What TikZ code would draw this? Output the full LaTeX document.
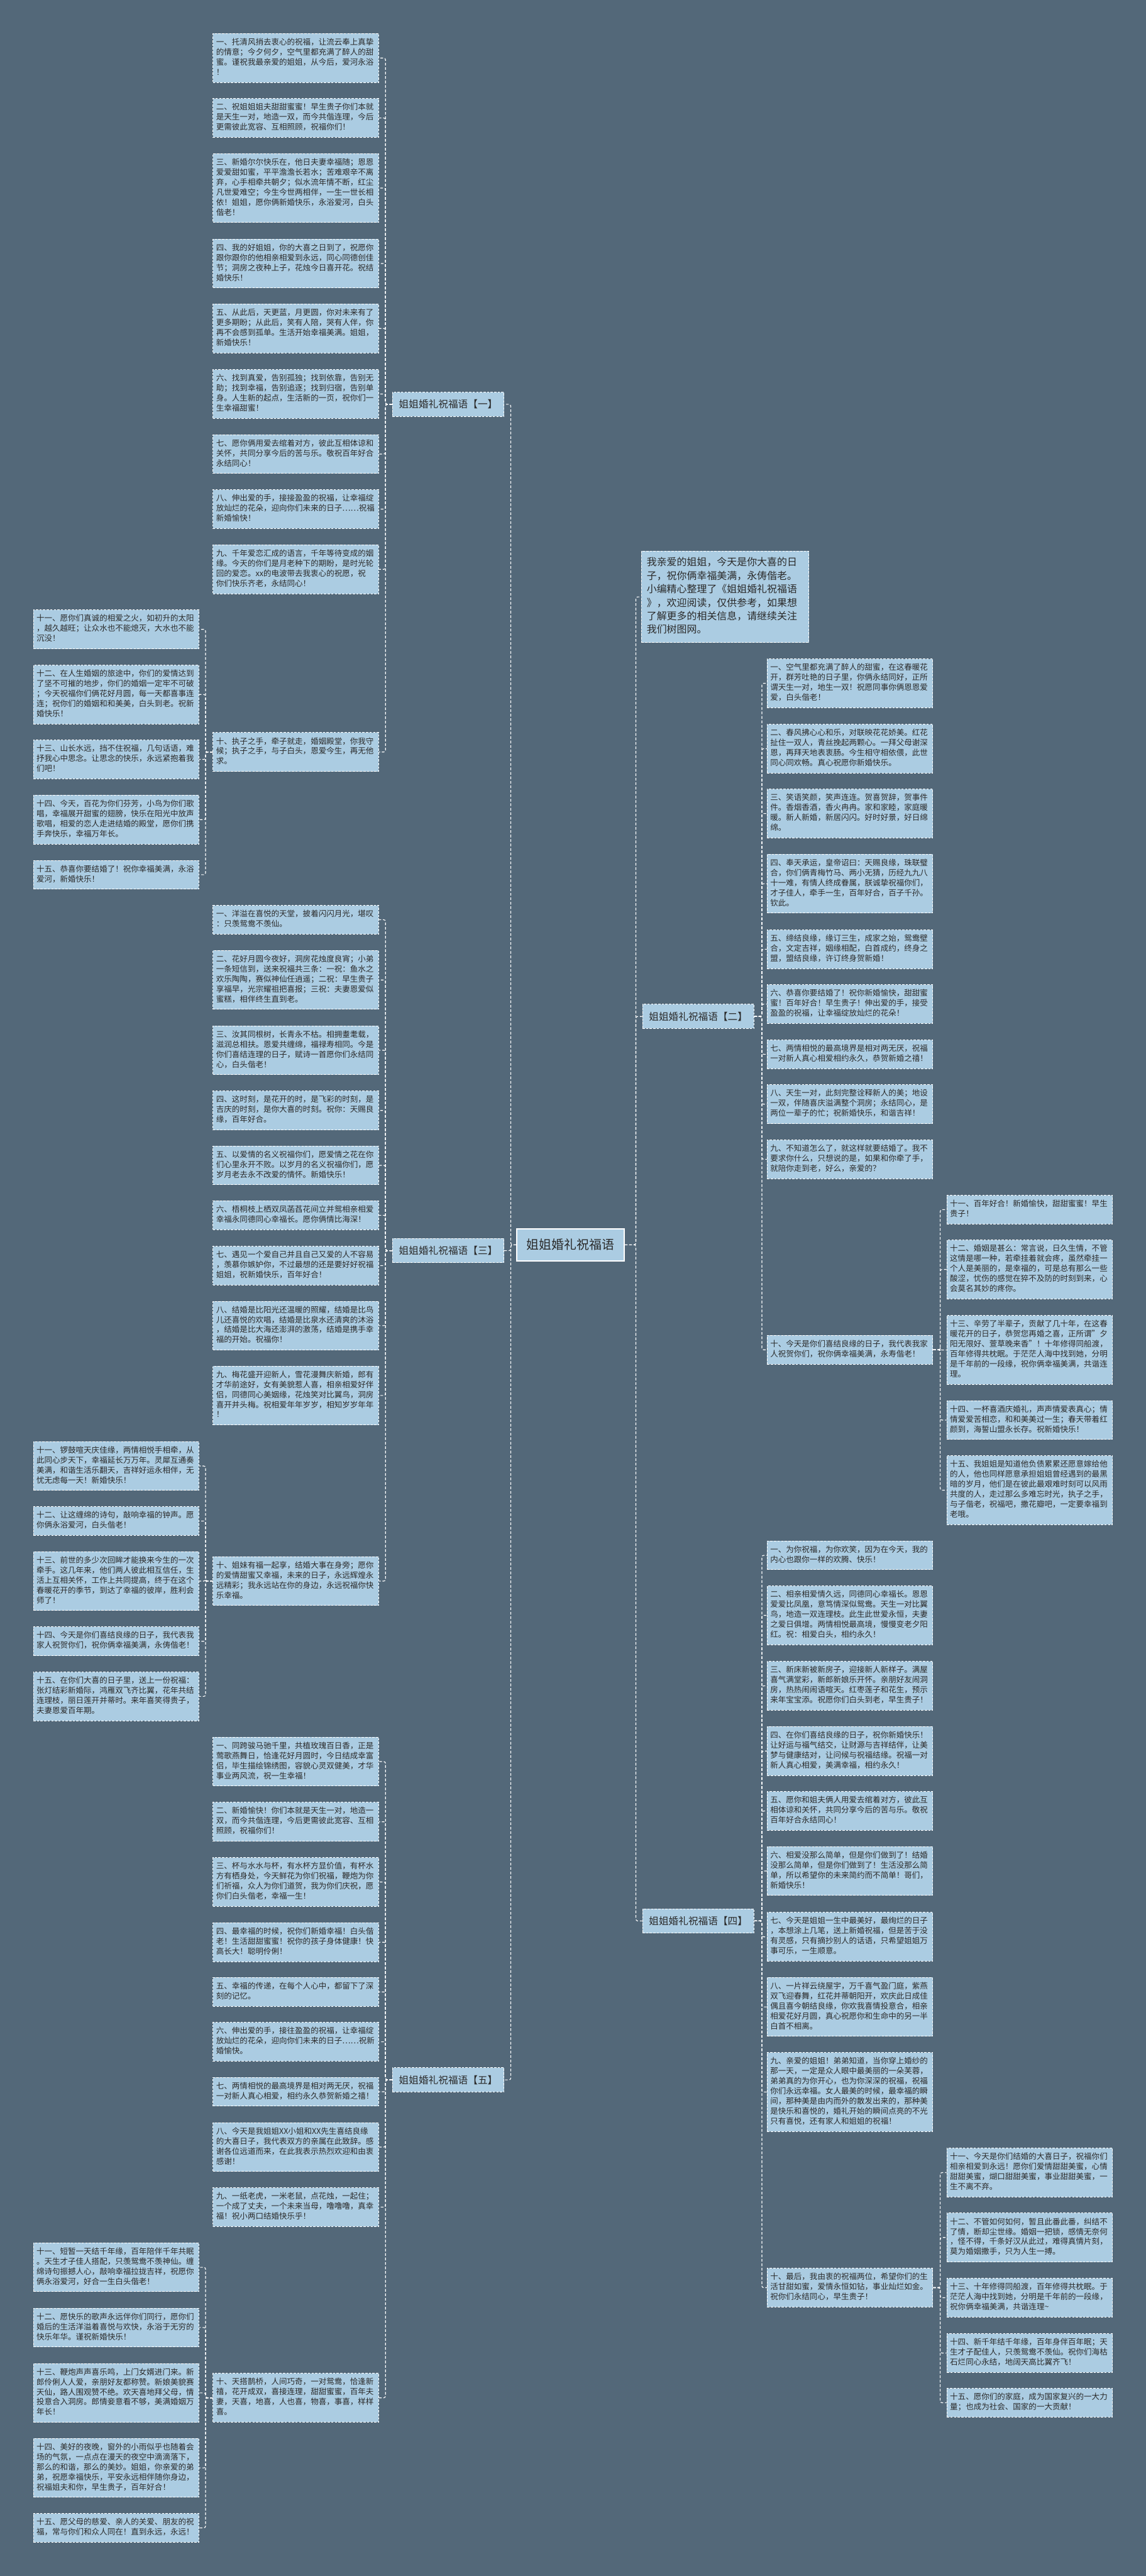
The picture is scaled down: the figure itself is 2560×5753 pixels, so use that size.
\documentclass[tikz,border=0pt]{standalone}
\usepackage{fontspec}
\setmainfont{Noto Sans CJK SC}
\setlength{\parindent}{0pt}
\definecolor{bgc}{RGB}{83,104,121}
\definecolor{leafc}{RGB}{171,204,226}
\definecolor{txtc}{RGB}{42,42,42}
\newcommand{\leaffont}{\fontsize{17.6}{22.4}\selectfont}
\newcommand{\introfont}{\fontsize{22.4}{30}\selectfont}
\tikzset{
  leaf/.style={draw=white, dash pattern=on 5pt off 3pt, line width=1.4pt, fill=leafc, text=txtc,
    font=\leaffont, text width=356pt, align=left, inner xsep=7pt, inner ysep=9.7pt,
    execute at begin node=\strut, execute at end node=\strut},
  intro/.style={leaf, font=\introfont, text width=350pt, inner xsep=12pt, inner ysep=12pt},
  branch/.style={draw=white, dash pattern=on 5pt off 3pt, line width=1.4pt, fill=leafc, text=txtc,
    font=\fontsize{22}{26}\selectfont, minimum width=249pt, minimum height=54pt, inner sep=4pt},
  root/.style={draw=white, line width=2.5pt, fill=leafc, text=txtc,
    font=\fontsize{28}{32}\selectfont, minimum width=240pt, minimum height=72pt, inner sep=6pt},
  conn/.style={draw=white, line width=1.6pt, dash pattern=on 6pt off 4pt, rounded corners=4pt}
}
\begin{document}
\begin{tikzpicture}[x=1pt,y=-1pt]
\useasboundingbox (0,0) rectangle (2560,5753);
\fill[bgc] (0,0) rectangle (2560,5753);

% root
\node[root] (root) at (1274.5,2780) {姐姐婚礼祝福语};

% intro
\node[intro] (intro) at (1620,1333) {我亲爱的姐姐，今天是你大喜的日\\子，祝你俩幸福美满，永俦偕老。\\小编精心整理了《姐姐婚礼祝福语\\》，欢迎阅读，仅供参考，如果想\\了解更多的相关信息，请继续关注\\我们树图网。};

% branches
\node[branch] (b1) at (1001.5,903) {姐姐婚礼祝福语【一】};
\node[branch] (b3) at (1001.5,2793) {姐姐婚礼祝福语【三】};
\node[branch] (b5) at (1001.5,4645) {姐姐婚礼祝福语【五】};
\node[branch] (b2) at (1560,2270) {姐姐婚礼祝福语【二】};
\node[branch] (b4) at (1560,4290) {姐姐婚礼祝福语【四】};

% ===== branch 1 =====
\node[leaf] (a1) at (661,129.5) {一、托清风捎去衷心的祝福，让流云奉上真挚\\的情意；今夕何夕，空气里都充满了醉人的甜\\蜜。谨祝我最亲爱的姐姐，从今后，爱河永浴\\！};
\node[leaf] (a2) at (661,263.5) {二、祝姐姐姐夫甜甜蜜蜜！早生贵子你们本就\\是天生一对，地造一双，而今共偕连理，今后\\更需彼此宽容、互相照顾，祝福你们！};
\node[leaf] (a3) at (661,420) {三、新婚尔尔快乐在，他日夫妻幸福随；恩恩\\爱爱甜如蜜，平平澹澹长若水；苦难艰辛不离\\弃，心手相牵共朝夕；似水流年情不断，红尘\\凡世爱难空；今生今世两相伴，一生一世长相\\依！姐姐，愿你俩新婚快乐，永浴爱河，白头\\偕老！};
\node[leaf] (a4) at (661,588.5) {四、我的好姐姐，你的大喜之日到了，祝愿你\\跟你跟你的他相亲相爱到永远，同心同德创佳\\节；洞房之夜种上子，花烛今日喜开花。祝结\\婚快乐！};
\node[leaf] (a5) at (661,733.5) {五、从此后，天更蓝，月更圆，你对未来有了\\更多期盼；从此后，笑有人陪，哭有人伴，你\\再不会感到孤单。生活开始幸福美满。姐姐，\\新婚快乐！};
\node[leaf] (a6) at (661,880) {六、找到真爱，告别孤独；找到依靠，告别无\\助；找到幸福，告别追逐；找到归宿，告别单\\身。人生新的起点，生活新的一页，祝你们一\\生幸福甜蜜！};
\node[leaf] (a7) at (661,1014) {七、愿你俩用爱去绾着对方，彼此互相体谅和\\关怀，共同分享今后的苦与乐。敬祝百年好合\\永结同心！};
\node[leaf] (a8) at (661,1137) {八、伸出爱的手，接接盈盈的祝福，让幸福绽\\放灿烂的花朵，迎向你们未来的日子……祝福\\新婚愉快！};
\node[leaf] (a9) at (661,1271.5) {九、千年爱恋汇成的语言，千年等待变成的姻\\缘。今天的你们是月老种下的期盼，是时光轮\\回的爱恋。xx的电波带去我衷心的祝愿，祝\\你们快乐齐老，永结同心！};
\node[leaf] (a10) at (661,1679.5) {十、执子之手，牵子就走，婚姻殿堂，你我守\\候；执子之手，与子白头，恩爱今生，再无他\\求。};
\node[leaf] (a11) at (259.5,1405.5) {十一、愿你们真诚的相爱之火，如初升的太阳\\，越久越旺；让众水也不能熄灭，大水也不能\\沉没！};
\node[leaf] (a12) at (259.5,1551) {十二、在人生婚姻的旅途中，你们的爱情达到\\了坚不可摧的地步，你们的婚姻一定牢不可破\\；今天祝福你们俩花好月圆，每一天都喜事连\\连；祝你们的婚姻和和美美，白头到老。祝新\\婚快乐！};
\node[leaf] (a13) at (259.5,1696) {十三、山长水远，挡不住祝福，几句话语，难\\抒我心中思念。让思念的快乐，永远紧抱着我\\们吧！};
\node[leaf] (a14) at (259.5,1830.5) {十四、今天，百花为你们芬芳，小鸟为你们歌\\唱，幸福展开甜蜜的翅膀，快乐在阳光中放声\\歌唱，相爱的恋人走进结婚的殿堂，愿你们携\\手奔快乐，幸福万年长。};
\node[leaf] (a15) at (259.5,1953.5) {十五、恭喜你要结婚了！祝你幸福美满，永浴\\爱河，新婚快乐！};

% ===== branch 3 =====
\node[leaf] (c1) at (661,2054) {一、洋溢在喜悦的天堂，披着闪闪月光，堪叹\\：只羡鸳鸯不羡仙。};
\node[leaf] (c2) at (661,2188.5) {二、花好月圆今夜好，洞房花烛度良宵；小弟\\一条短信到，送来祝福共三条：一祝：鱼水之\\欢乐陶陶，赛似神仙任逍遥；二祝：早生贵子\\享福早，光宗耀祖把喜报；三祝：夫妻恩爱似\\蜜糕，相伴终生直到老。};
\node[leaf] (c3) at (661,2345.5) {三、汝其同根树，长青永不枯。相拥耋耄载，\\滋润总相扶。恩爱共缠绵，福禄寿相同。今是\\你们喜结连理的日子，赋诗一首愿你们永结同\\心，白头偕老！};
\node[leaf] (c4) at (661,2480) {四、这时刻，是花开的时，是飞彩的时刻，是\\吉庆的时刻，是你大喜的时刻。祝你：天赐良\\缘，百年好合。};
\node[leaf] (c5) at (661,2602.5) {五、以爱情的名义祝福你们，愿爱情之花在你\\们心里永开不败。以岁月的名义祝福你们，愿\\岁月老去永不改爱的情怀。新婚快乐！};
\node[leaf] (c6) at (661,2714) {六、梧桐枝上栖双凤菡萏花间立并鸳相亲相爱\\幸福永同德同心幸福长。愿你俩情比海深！};
\node[leaf] (c7) at (661,2826.5) {七、遇见一个爱自己并且自己又爱的人不容易\\，羡慕你嫉妒你，不过最想的还是要好好祝福\\姐姐，祝新婚快乐，百年好合！};
\node[leaf] (c8) at (661,2960.5) {八、结婚是比阳光还温暖的照耀，结婚是比鸟\\儿还喜悦的欢唱，结婚是比泉水还清爽的沐浴\\，结婚是比大海还澎湃的激荡，结婚是携手幸\\福的开始。祝福你！};
\node[leaf] (c9) at (661,3116.5) {九、梅花盛开迎新人，雪花漫舞庆新婚，郎有\\才华前途好，女有美貌惹人喜，相亲相爱好伴\\侣，同德同心美姻缘，花烛笑对比翼鸟，洞房\\喜开并头梅。祝相爱年年岁岁，相知岁岁年年\\！};
\node[leaf] (c10) at (661,3531) {十、姐妹有福一起享，结婚大事在身旁；愿你\\的爱情甜蜜又幸福，未来的日子，永远辉煌永\\远精彩；我永远站在你的身边，永远祝福你快\\乐幸福。};
\node[leaf] (c11) at (259.5,3274) {十一、锣鼓喧天庆佳缘，两情相悦手相牵，从\\此同心步天下，幸福延长万万年。灵犀互通奏\\美满，和谐生活乐翻天，吉祥好运永相伴，无\\忧无虑每一天！新婚快乐！};
\node[leaf] (c12) at (259.5,3397) {十二、让这缠绵的诗句，敲响幸福的钟声。愿\\你俩永浴爱河，白头偕老！};
\node[leaf] (c13) at (259.5,3531) {十三、前世的多少次回眸才能换来今生的一次\\牵手。这几年来，他们两人彼此相互信任，生\\活上互相关怀，工作上共同提高，终于在这个\\春暖花开的季节，到达了幸福的彼岸，胜利会\\师了！};
\node[leaf] (c14) at (259.5,3665.5) {十四、今天是你们喜结良缘的日子，我代表我\\家人祝贺你们，祝你俩幸福美满，永俦偕老！};
\node[leaf] (c15) at (259.5,3788.5) {十五、在你们大喜的日子里，送上一份祝福：\\张灯结彩新婚际，鸿雁双飞齐比翼，花年共结\\连理枝，丽日莲开并蒂时。来年喜笑得贵子，\\夫妻恩爱百年期。};

% ===== branch 5 =====
\node[leaf] (e1) at (661,3934) {一、同跨骏马驰千里，共植玫瑰百日香，正是\\莺歌燕舞日，恰逢花好月圆时，今日结成幸富\\侣，毕生描绘锦绣图，容貌心灵双健美，才华\\事业两风流，祝一生幸福！};
\node[leaf] (e2) at (661,4068.5) {二、新婚愉快！你们本就是天生一对，地造一\\双，而今共偕连理，今后更需彼此宽容、互相\\照顾，祝福你们！};
\node[leaf] (e3) at (661,4203) {三、杯与水水与杯，有水杯方显价值，有杯水\\方有栖身处，今天鲜花为你们祝福，鞭炮为你\\们祈福，众人为你们道贺，我为你们庆祝，愿\\你们白头偕老，幸福一生！};
\node[leaf] (e4) at (661,4337.5) {四、最幸福的时候，祝你们新婚幸福！白头偕\\老！生活甜甜蜜蜜！祝你的孩子身体健康！快\\高长大！聪明伶俐！};
\node[leaf] (e5) at (661,4448.5) {五、幸福的传递，在每个人心中，都留下了深\\刻的记忆。};
\node[leaf] (e6) at (661,4560) {六、伸出爱的手，接往盈盈的祝福，让幸福绽\\放灿烂的花朵，迎向你们未来的日子……祝新\\婚愉快。};
\node[leaf] (e7) at (661,4671.5) {七、两情相悦的最高境界是相对两无厌，祝福\\一对新人真心相爱，相约永久恭贺新婚之禧！};
\node[leaf] (e8) at (661,4795) {八、今天是我姐姐XX小姐和XX先生喜结良缘\\的大喜日子，我代表双方的亲属在此致辞。感\\谢各位远道而来，在此我表示热烈欢迎和由衷\\感谢！};
\node[leaf] (e9) at (661,4929) {九、一纸老虎，一米老鼠，点花烛，一起住；\\一个成了丈夫，一个未来当母，噜噜噜，真幸\\福！祝小两口结婚快乐乎！};
\node[leaf] (e10) at (661,5355) {十、天搭鹊桥，人间巧奇，一对鸳鸯，恰逢新\\禧，花开成双，喜接连理，甜甜蜜蜜，百年夫\\妻，天喜，地喜，人也喜，物喜，事喜，样样\\喜。};
\node[leaf] (e11) at (259.5,5063.5) {十一、短暂一天结千年缘，百年陪伴千年共眠\\。天生才子佳人搭配，只羡鸳鸯不羡神仙。缠\\绵诗句振撼人心，敲响幸福拉拢吉祥，祝愿你\\俩永浴爱河，好合一生白头偕老！};
\node[leaf] (e12) at (259.5,5198) {十二、愿快乐的歌声永远伴你们同行，愿你们\\婚后的生活洋溢着喜悦与欢快，永浴于无穷的\\快乐年华。谨祝新婚快乐！};
\node[leaf] (e13) at (259.5,5344) {十三、鞭炮声声喜乐鸣，上门女婿进门来。新\\郎伶俐人人爱，亲朋好友都称赞。新娘美貌赛\\天仙，路人围观赞不绝。欢天喜地拜父母，情\\投意合入洞房。郎情妾意看不够，美满婚姻万\\年长！};
\node[leaf] (e14) at (259.5,5511.5) {十四、美好的夜晚，窗外的小雨似乎也随着会\\场的气氛，一点点在漫天的夜空中滴滴落下，\\那么的和谐，那么的美妙。姐姐，你亲爱的弟\\弟，祝愿幸福快乐，平安永远相伴随你身边，\\祝福姐夫和你，早生贵子，百年好合！};
\node[leaf] (e15) at (259.5,5645.5) {十五、愿父母的慈爱、亲人的关爱、朋友的祝\\福，常与你们和众人同在！直到永远，永远！};

% ===== branch 2 =====
\node[leaf] (d1) at (1899,1526) {一、空气里都充满了醉人的甜蜜，在这春暖花\\开，群芳吐艳的日子里，你俩永结同好，正所\\谓天生一对，地生一双！祝愿同事你俩恩恩爱\\爱，白头偕老！};
\node[leaf] (d2) at (1899,1672) {二、春风拂心心和乐，对联映花花娇美。红花\\扯住一双人，青丝挽起两颗心。一拜父母谢深\\恩，再拜天地表衷肠。今生相守相依偎，此世\\同心同欢畅。真心祝愿你新婚快乐。};
\node[leaf] (d3) at (1899,1817) {三、笑语笑颜，笑声连连。贺喜贺辞，贺事件\\件。香烟香酒，香火冉冉。家和家睦，家庭暖\\暖。新人新婚，新居闪闪。好时好景，好日绵\\绵。};
\node[leaf] (d4) at (1899,1973.5) {四、奉天承运，皇帝诏曰：天赐良缘，珠联璧\\合，你们俩青梅竹马、两小无猜，历经九九八\\十一难，有情人终成眷属，朕诚挚祝福你们，\\才子佳人，牵手一生，百年好合，百子千孙。\\钦此。};
\node[leaf] (d5) at (1899,2120) {五、缔结良缘，缘订三生，成家之始，鸳鸯壁\\合，文定吉祥，姻缘相配，白首成约，终身之\\盟，盟结良缘，许订终身贺新婚！};
\node[leaf] (d6) at (1899,2242.5) {六、恭喜你要结婚了！祝你新婚愉快，甜甜蜜\\蜜！百年好合！早生贵子！伸出爱的手，接受\\盈盈的祝福，让幸福绽放灿烂的花朵！};
\node[leaf] (d7) at (1899,2354.5) {七、两情相悦的最高境界是相对两无厌，祝福\\一对新人真心相爱相约永久，恭贺新婚之禧！};
\node[leaf] (d8) at (1899,2466) {八、天生一对，此刻完整诠释新人的美；地设\\一双，伴随喜庆溢满整个洞房；永结同心，是\\两位一辈子的忙；祝新婚快乐，和谐吉祥！};
\node[leaf] (d9) at (1899,2589) {九、不知道怎么了，就这样就要结婚了。我不\\要求你什么，只想说的是，如果和你牵了手，\\就陪你走到老，好么，亲爱的？};
\node[leaf] (d10) at (1899,3014.5) {十、今天是你们喜结良缘的日子，我代表我家\\人祝贺你们，祝你俩幸福美满，永寿偕老！};
\node[leaf] (d11) at (2300.5,2701.5) {十一、百年好合！新婚愉快，甜甜蜜蜜！早生\\贵子！};
\node[leaf] (d12) at (2300.5,2835) {十二、婚姻是甚么：常言说，日久生情，不管\\这情是哪一种，若牵挂着就会疼，虽然牵挂一\\个人是美丽的，是幸福的，可是总有那么一些\\酸涩，忧伤的感觉在猝不及防的时刻到来，心\\会莫名其妙的疼你。};
\node[leaf] (d13) at (2300.5,3015) {十三、辛劳了半辈子，贡献了几十年，在这春\\暖花开的日子，恭贺您再婚之喜，正所谓"夕\\阳无限好、萱草晚来香"！十年修得同船渡，\\百年修得共枕眠。于茫茫人海中找到她，分明\\是千年前的一段缘，祝你俩幸福美满，共谐连\\理。};
\node[leaf] (d14) at (2300.5,3171.5) {十四、一杯喜酒庆婚礼，声声情爱表真心；情\\情爱爱苦相恋，和和美美过一生；春天带着红\\颜到，海誓山盟永长存。祝新婚快乐！};
\node[leaf] (d15) at (2300.5,3328) {十五、我姐姐是知道他负债累累还愿意嫁给他\\的人，他也同样愿意承担姐姐曾经遇到的最黑\\暗的岁月，他们是在彼此最艰难时刻可以风雨\\共度的人，走过那么多难忘时光，执子之手，\\与子偕老，祝福吧，撒花瓣吧，一定要幸福到\\老哦。};

% ===== branch 4 =====
\node[leaf] (f1) at (1899,3473.5) {一、为你祝福，为你欢笑，因为在今天，我的\\内心也跟你一样的欢腾、快乐！};
\node[leaf] (f2) at (1899,3607.5) {二、相亲相爱情久远，同德同心幸福长。恩恩\\爱爱比凤凰，意笃情深似鸳鸯。天生一对比翼\\鸟，地造一双连理枝。此生此世爱永恒，夫妻\\之爱日俱增。两情相悦最高境，慢慢变老夕阳\\红。祝：相爱白头，相约永久！};
\node[leaf] (f3) at (1899,3765) {三、新床新被新房子，迎接新人新样子。满屋\\喜气满堂彩，新郎新娘乐开怀。亲朋好友闹洞\\房，热热闹闹语喧天。红枣莲子和花生，预示\\来年宝宝添。祝愿你们白头到老，早生贵子！};
\node[leaf] (f4) at (1899,3910.5) {四、在你们喜结良缘的日子，祝你新婚快乐！\\让好运与福气结交，让财源与吉祥结伴，让美\\梦与健康结对，让问候与祝福结缘。祝福一对\\新人真心相爱，美满幸福，相约永久！};
\node[leaf] (f5) at (1899,4044.5) {五、愿你和姐夫俩人用爱去绾着对方，彼此互\\相体谅和关怀，共同分享今后的苦与乐。敬祝\\百年好合永结同心！};
\node[leaf] (f6) at (1899,4178.5) {六、相爱没那么简单，但是你们做到了！结婚\\没那么简单，但是你们做到了！生活没那么简\\单，所以希望你的未来简约而不简单！哥们，\\新婚快乐！};
\node[leaf] (f7) at (1899,4325.5) {七、今天是姐姐一生中最美好，最绚烂的日子\\，本想涂上几笔，送上新婚祝福，但是苦于没\\有灵感，只有摘抄别人的话语，只希望姐姐万\\事可乐，一生顺意。};
\node[leaf] (f8) at (1899,4482) {八、一片祥云绕屋宇，万千喜气盈门庭，紫燕\\双飞迎春舞，红花并蒂朝阳开，欢庆此日成佳\\偶且喜今朝结良缘，你欢我喜情投意合，相亲\\相爱花好月圆，真心祝愿你和生命中的另一半\\白首不相离。};
\node[leaf] (f9) at (1899,4672) {九、亲爱的姐姐！弟弟知道，当你穿上婚纱的\\那一天，一定是众人眼中最美丽的一朵芙蓉，\\弟弟真的为你开心，也为你深深的祝福，祝福\\你们永远幸福。女人最美的时候，最幸福的瞬\\间，那种美是由内而外的散发出来的，那种美\\是快乐和喜悦的，婚礼开始的瞬间点亮的不光\\只有喜悦，还有家人和姐姐的祝福！};
\node[leaf] (f10) at (1899,5109) {十、最后，我由衷的祝福两位，希望你们的生\\活甘甜如蜜，爱情永恒如钻，事业灿烂如金。\\祝你们永结同心，早生贵子！};
\node[leaf] (f11) at (2300.5,4852) {十一、今天是你们结婚的大喜日子，祝福你们\\相亲相爱到永远！愿你们爱情甜甜美蜜，心情\\甜甜美蜜，煳口甜甜美蜜，事业甜甜美蜜，一\\生不离不弃。};
\node[leaf] (f12) at (2300.5,4997) {十二、不管如何如何，暂且此番此番，纠结不\\了情，断却尘世缘。婚姻一把锁，感情无奈何\\，怪不得，千条好汉从此过，难得真情片刻，\\莫为婚姻撒手，只为人生一搏。};
\node[leaf] (f13) at (2300.5,5131.5) {十三、十年修得同船渡，百年修得共枕眠。于\\茫茫人海中找到她，分明是千年前的一段缘，\\祝你俩幸福美满，共谐连理{\char"7E}};
\node[leaf] (f14) at (2300.5,5255) {十四、新千年结千年缘，百年身伴百年眠；天\\生才子配佳人，只羡鸳鸯不羡仙。祝你们海枯\\石烂同心永结，地阔天高比翼齐飞！};
\node[leaf] (f15) at (2300.5,5366) {十五、愿你们的家庭，成为国家复兴的一大力\\量；也成为社会、国家的一大贡献！};

% ===== connectors =====
% root to branches
\foreach \b in {b1,b3,b5} \draw[conn] (root.west) -- ++(-12,0) |- (\b.east);
\foreach \b in {intro,b2,b4} \draw[conn] (root.east) -- ++(25,0) |- (\b.west);
% left branches
\foreach \p/\c in {b1/a, b3/c, b5/e} {
  \foreach \i in {1,...,10} \draw[conn] (\p.west) -- ++(-15,0) |- (\c\i.east);
  \foreach \i in {11,...,15} \draw[conn] (\c10.west) -- ++(-16,0) |- (\c\i.east);
}
% right branches
\foreach \p/\c in {b2/d, b4/f} {
  \foreach \i in {1,...,10} \draw[conn] (\p.east) -- ++(17,0) |- (\c\i.west);
  \foreach \i in {11,...,15} \draw[conn] (\c10.east) -- ++(16,0) |- (\c\i.west);
}
\end{tikzpicture}
\end{document}
